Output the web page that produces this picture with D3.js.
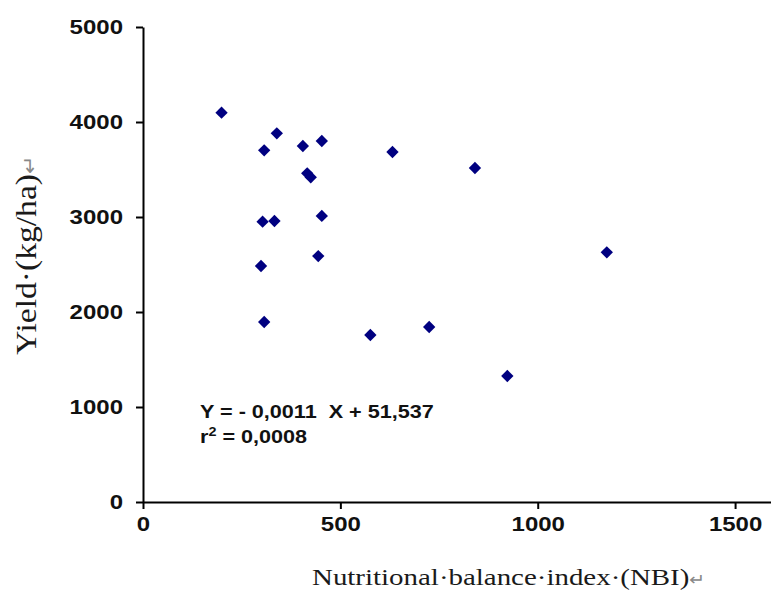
<!DOCTYPE html>
<html>
<head>
<meta charset="utf-8">
<script src="https://cdn.jsdelivr.net/npm/d3@7"></script>
<style>
  body { margin: 0; background: #fff; }
  svg { display: block; }
</style>
</head>
<body>
<svg id="chart" width="771" height="590"></svg>
<script>

// NBI (x) and yield in kg/ha (y)
const nbi = [199, 307, 339, 405, 453, 416, 425, 632, 841, 303, 333, 453, 444, 299, 307, 576, 725, 923, 1175]
const yieldValues = [4098, 3702, 3881, 3747, 3800, 3460, 3418, 3684, 3516, 2951, 2958, 3011, 2589, 2484, 1895, 1758, 1842, 1326, 2628]

const xTicks = [0, 500, 1000, 1500]
const yTicks = [0, 1000, 2000, 3000, 4000, 5000]

const equationLine = "Y = - 0,0011  X + 51,537"
const r2Value = "0,0008"

const xTitle = "Nutritional·balance·index·(NBI)"
const yTitle = "Yield·(kg/ha)"

const data = nbi.map((x, i) => ({ x: x, y: yieldValues[i] }))

// the source image is stretched sideways a bit, text included
const stretch = 1.2

const svg = d3.select('#chart')

const xScale = d3.scaleLinear()
    .domain([0, 1591])
    .range([143, 771])

const yScale = d3.scaleLinear()
    .domain([0, 5000])
    .range([502, 27])

const xAxis = d3.axisBottom(xScale)
    .tickValues(xTicks)
    .tickSize(7)
    .tickSizeOuter(0)
    .tickPadding(8)
    .tickFormat(d3.format('d'))

const yAxis = d3.axisLeft(yScale)
    .tickValues(yTicks)
    .tickSize(7)
    .tickSizeOuter(0)
    .tickPadding(13)
    .tickFormat(d3.format('d'))

const gx = svg.append('g')
    .attr('transform', 'translate(0,' + yScale(0) + ')')
    .call(xAxis)

const gy = svg.append('g')
    .attr('transform', 'translate(' + xScale(0) + ',0)')
    .call(yAxis)

svg.selectAll('.domain, .tick line')
    .attr('stroke', '#000')
    .attr('stroke-width', 2)

svg.selectAll('.tick text')
    .attr('fill', '#111')
    .attr('class', 'stretch')
    .style('font-family', 'Arial, "Liberation Sans", sans-serif')
    .style('font-size', '20px')
    .style('font-weight', 'bold')

// markers: small navy diamonds
svg.append('g')
    .selectAll('path')
    .data(data)
    .enter()
    .append('path')
    .attr('d', d3.symbol(d3.symbolSquare, 76))
    .attr('transform', d => 'translate(' + xScale(d.x) + ',' + yScale(d.y) + ') rotate(45)')
    .attr('fill', '#000080')

// regression text
const eq = svg.append('g')
    .style('font-family', 'Arial, "Liberation Sans", sans-serif')
    .style('font-weight', 'bold')
    .style('font-size', '18px')
    .attr('fill', '#111')

// keep the double space of the original
eq.append('text')
    .attr('class', 'stretch')
    .attr('x', 200)
    .attr('y', 418)
    .text(equationLine.replace(/  /g, ' \u00a0'))

const r2 = eq.append('text')
    .attr('class', 'stretch')
    .attr('x', 200)
    .attr('y', 443)
r2.append('tspan').text('r')
r2.append('tspan').attr('dy', -7).style('font-size', '12px').text('2')
r2.append('tspan').attr('dy', 7).text(' = ' + r2Value)

// axis titles
const xt = svg.append('text')
    .attr('x', 312)
    .attr('y', 585)
    .attr('textLength', 393)
    .attr('lengthAdjust', 'spacingAndGlyphs')
    .style('font-family', '"Times New Roman", "Liberation Serif", serif')
    .style('font-size', '24px')
    .attr('fill', '#1a1a1a')
xt.append('tspan').text(xTitle)
xt.append('tspan').attr('fill', '#888').style('font-size', '16px').text('↵')

const yt = svg.append('text')
    .attr('transform', 'translate(36,355) rotate(-90) scale(1,' + stretch + ')')
    .attr('textLength', 200)
    .attr('lengthAdjust', 'spacingAndGlyphs')
    .style('font-family', '"Times New Roman", "Liberation Serif", serif')
    .style('font-size', '24px')
    .attr('fill', '#1a1a1a')
yt.append('tspan').text(yTitle)
yt.append('tspan').attr('fill', '#888').style('font-size', '16px').text('↵')

// widen the sans text like in the picture
svg.selectAll('.stretch').each(function () {
    const w = this.getComputedTextLength()
    d3.select(this)
        .attr('textLength', w * stretch)
        .attr('lengthAdjust', 'spacingAndGlyphs')
})

// y tick labels stay right aligned after widening
gy.selectAll('.tick text').each(function () {
    const t = d3.select(this)
    t.attr('text-anchor', 'start')
        .attr('x', -20 - (+t.attr('textLength')))
})

</script>
</body>
</html>
